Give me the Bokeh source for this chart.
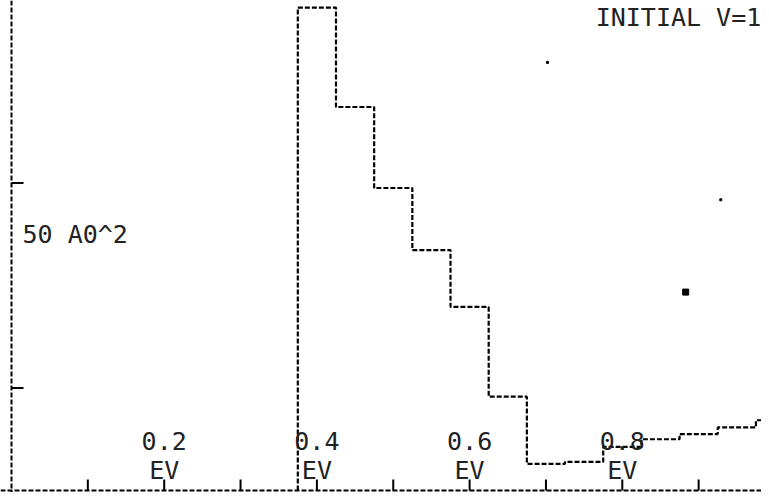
from bokeh.plotting import figure
from bokeh.models import Range1d, Span
from bokeh.core.properties import value
from bokeh.embed import file_html
from bokeh.resources import INLINE

# ---- data ----
bin_left = [0.375, 0.425, 0.475, 0.525, 0.575, 0.625, 0.675, 0.725,
            0.775, 0.825, 0.875, 0.925, 0.975]
bin_width = 0.05
cross_section = [94.2, 74.8, 59.0, 46.9, 35.8, 18.3, 5.2, 5.6,
                 8.5, 10.0, 11.0, 12.3, 13.7]          # A0^2

x_ticks = [0.1, 0.2, 0.3, 0.4, 0.5, 0.6, 0.7, 0.8, 0.9]
x_label_pos = [0.2, 0.4, 0.6, 0.8]
x_labels = ["0.2", "0.4", "0.6", "0.8"]
x_unit = ["EV", "EV", "EV", "EV"]
y_ticks = [20, 60]
y_label = "50 A0^2"
y_label_pos = 50
title = "INITIAL V=1"

dot_x = [0.883, 0.702, 0.929]
dot_y = [38.7, 83.5, 56.7]
dot_size = [6, 2, 2]

# ---- layout / style ----
W, H = 761, 492
PX_X = 763.5          # pixels per EV
PX_Y = 5.127          # pixels per A0^2
X0_PX = 11            # pixel column of x = 0
Y0_PX = 490           # pixel row of y = 0
FONT = value("DejaVu Sans Mono")
INK = "black"
TXT = "#222222"
DASH = "5 2"

p = figure(width=W, height=H, output_backend="svg", toolbar_location=None,
           x_range=Range1d(-X0_PX / PX_X, (W - X0_PX) / PX_X),
           y_range=Range1d(-(H - Y0_PX) / PX_Y, Y0_PX / PX_Y),
           min_border=0)
p.axis.visible = False
p.grid.visible = False
p.outline_line_color = None
p.background_fill_color = "white"
p.border_fill_color = "white"

# axes lines (dashed, like the plotter output)
p.add_layout(Span(location=0, dimension="height", line_color=INK,
                  line_width=2, line_dash=DASH))
p.add_layout(Span(location=0, dimension="width", line_color=INK,
                  line_width=2, line_dash=DASH))

# inward ticks
tick_len_y = 11 / PX_Y
tick_len_x = 12 / PX_X
p.segment(x0=x_ticks, y0=[0] * len(x_ticks), x1=x_ticks,
          y1=[tick_len_y] * len(x_ticks), line_color=INK, line_width=2)
p.segment(x0=[0] * len(y_ticks), y0=y_ticks, x1=[tick_len_x] * len(y_ticks),
          y1=y_ticks, line_color=INK, line_width=2)

# step outline of the histogram
path_x = [bin_left[0]]
path_y = [0]
for left, h in zip(bin_left, cross_section):
    path_x += [left, left + bin_width]
    path_y += [h, h]
p.line(path_x, path_y, line_color=INK, line_width=2.2, line_dash=DASH)

p.scatter(dot_x, dot_y, size=dot_size, color=INK, marker="square")

common = dict(text_font=FONT, text_font_size="25px", text_color=TXT)
p.text(x=x_label_pos, y=[9.6] * 4, text=x_labels, text_align="center",
       text_baseline="middle", **common)
p.text(x=x_label_pos, y=[3.9] * 4, text=x_unit, text_align="center",
       text_baseline="middle", **common)
p.text(x=[0.0144], y=[y_label_pos], text=[y_label], text_align="left",
       text_baseline="middle", **common)
p.text(x=[0.982], y=[(Y0_PX - 17) / PX_Y], text=[title], text_align="right",
       text_baseline="alphabetic", **common)

open("out.html", "w").write(file_html(p, INLINE))
